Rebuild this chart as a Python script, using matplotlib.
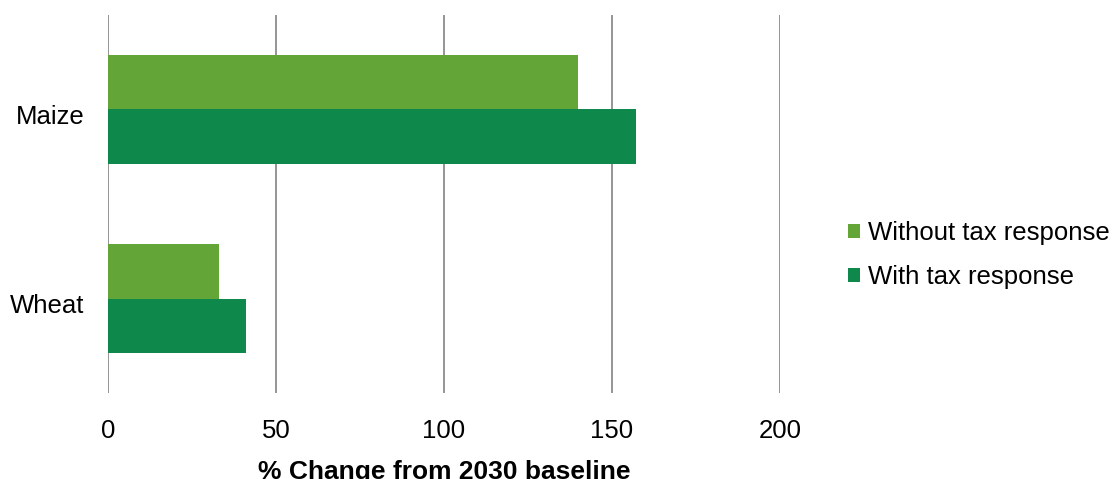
import numpy as np
import matplotlib
matplotlib.use('Agg')
import matplotlib.pyplot as plt
from matplotlib.transforms import ScaledTranslation

plt.rcParams['font.family'] = ['Liberation Sans', 'DejaVu Sans']

# data
crops = ['Wheat', 'Maize']
without_tax = [33, 140]
with_tax = [41, 157]
series_names = ['Without tax response', 'With tax response']
colors = ['#63a536', '#0e884b']
xticks = [0, 50, 100, 150, 200]

fig = plt.figure(figsize=(11.18, 4.79), dpi=100)
ax = fig.add_axes([0.0966, 0.1795, 0.6011, 0.7892])

y = np.arange(len(crops))
h = 0.29
ax.barh(y + h / 2, without_tax, height=h, color=colors[0], label=series_names[0])
ax.barh(y - h / 2, with_tax, height=h, color=colors[1], label=series_names[1])

ax.set_xlim(0, 200)
ax.set_ylim(-0.5, 1.5)
ax.set_xticks(xticks)
ax.set_yticks(y)
ax.set_yticklabels(crops)
ax.tick_params(axis='x', length=0, pad=19, labelsize=18.5)
ax.tick_params(axis='y', length=0, pad=17, labelsize=18.5)
# category labels sit a little below the bar pair centre in the original
shift = ScaledTranslation(0, -3.5 / 72, fig.dpi_scale_trans)
for lab in ax.get_yticklabels():
    lab.set_transform(lab.get_transform() + shift)
ax.xaxis.grid(True, color='#8c8c8c', linewidth=1.3)
ax.set_axisbelow(True)
for s in ax.spines.values():
    s.set_visible(False)

ax.set_xlabel('% Change from 2030 baseline', fontsize=19, fontweight='bold', labelpad=12)

ax.legend(loc='center left', bbox_to_anchor=(1.067, 0.365), frameon=False, fontsize=18.5,
          handlelength=0.47, handleheight=0.47, handletextpad=0.3, labelspacing=0.78)

fig.savefig('out.png', dpi=100)
